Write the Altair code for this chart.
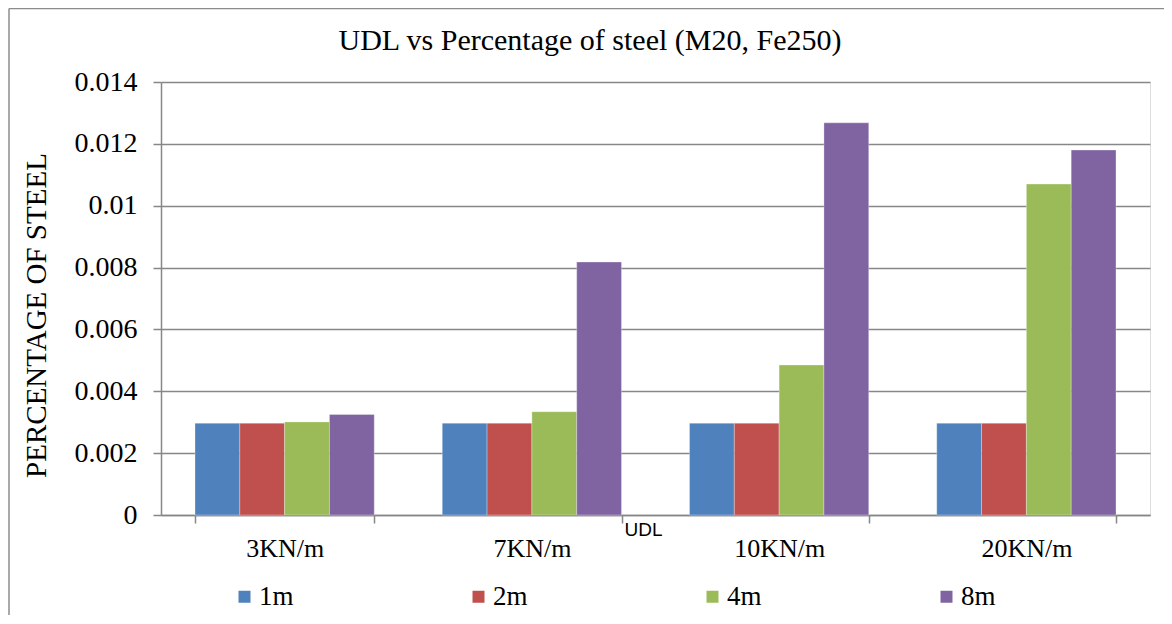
import altair as alt
import pandas as pd

categories = ["3KN/m", "7KN/m", "10KN/m", "20KN/m"]
series = ["1m", "2m", "4m", "8m"]
v_1m = [0.00297, 0.00297, 0.00297, 0.00297]
v_2m = [0.00297, 0.00297, 0.00297, 0.00297]
v_4m = [0.00301, 0.00334, 0.00485, 0.0107]
v_8m = [0.00325, 0.00818, 0.01268, 0.0118]
colors = ["#4F81BD", "#C0504D", "#9BBB59", "#8064A2"]
y_ticks = [0, 0.002, 0.004, 0.006, 0.008, 0.01, 0.012, 0.014]
title_text = "UDL vs Percentage of steel (M20, Fe250)"

rows = []
for s, vals in zip(series, [v_1m, v_2m, v_4m, v_8m]):
    for c, v in zip(categories, vals):
        rows.append({"UDL": c, "Span": s, "Steel": v})
df = pd.DataFrame(rows)

W, H = 989, 433
PL, PT, PR, PB = 153, 74, 14, 100
SERIF = "Liberation Serif"
GRID = "#878787"

bars = alt.Chart(df).mark_bar(stroke="white", strokeWidth=0.6, strokeOpacity=0.5).encode(
    x=alt.X(
        "UDL:N",
        sort=categories,
        scale=alt.Scale(paddingInner=0.275, paddingOuter=0.1375),
        axis=alt.Axis(
            title="UDL",
            labelAngle=0,
            tickBand="extent",
            tickSize=8,
            tickColor=GRID,
            tickWidth=1.5,
            domainColor=GRID,
            domainWidth=1.5,
            grid=False,
            labelFont=SERIF,
            labelFontSize=26,
            labelColor="black",
            labelPadding=12,
            titleFont="Liberation Sans",
            titleFontSize=19,
            titleFontWeight="normal",
            titleColor="black",
            titleX=482,
            titleY=14,
            titleAlign="center",
            titleBaseline="middle",
        ),
    ),
    xOffset=alt.XOffset("Span:N", sort=series),
    y=alt.Y(
        "Steel:Q",
        scale=alt.Scale(domain=[0, 0.014], nice=False),
        axis=alt.Axis(
            title="PERCENTAGE OF STEEL",
            values=y_ticks,
            format="~g",
            tickSize=8,
            tickColor=GRID,
            tickWidth=1.5,
            domainColor=GRID,
            domainWidth=1.5,
            grid=True,
            gridColor=GRID,
            gridWidth=1.5,
            labelFont=SERIF,
            labelFontSize=28,
            labelColor="black",
            labelPadding=16,
            titleFont=SERIF,
            titleFontSize=29,
            titleFontWeight="normal",
            titleColor="black",
            titleX=-125,
            titleY=233,
            titleAlign="center",
            titleBaseline="middle",
            titleAngle=270,
        ),
    ),
    color=alt.Color(
        "Span:N",
        sort=series,
        scale=alt.Scale(domain=series, range=colors),
        legend=alt.Legend(
            title=None,
            orient="none",
            legendX=70,
            legendY=501,
            direction="horizontal",
            columns=4,
            columnPadding=171,
            symbolType="square",
            symbolSize=144,
            symbolStrokeWidth=0,
            labelFont=SERIF,
            labelFontSize=27,
            labelColor="black",
            labelOffset=1,
            padding=0,
        ),
    ),
)

frame_df = pd.DataFrame({"k": [0]})
top_line = alt.Chart(frame_df).mark_rule(color="#8c8c8c", strokeWidth=1.5).encode(
    x=alt.value(-152), x2=alt.value(W + PR), y=alt.value(-73.5)
)
left_line = alt.Chart(frame_df).mark_rule(color="#8c8c8c", strokeWidth=1.5).encode(
    x=alt.value(-152), y=alt.value(-73.5), y2=alt.value(H + PB)
)
title_mark = alt.Chart(frame_df).mark_text(
    font=SERIF, fontSize=30, color="black", align="center", baseline="alphabetic"
).encode(
    x=alt.value(429), y=alt.value(-32), text=alt.value(title_text)
)

chart = alt.layer(top_line, left_line, title_mark, bars).properties(
    width=W,
    height=H,
    padding={"left": PL, "top": PT, "right": PR, "bottom": PB},
    autosize=alt.AutoSizeParams(type="none"),
).configure_view(stroke=None).configure(background="white")

chart.save("out.html", embed_options={"renderer": "svg", "actions": False})
